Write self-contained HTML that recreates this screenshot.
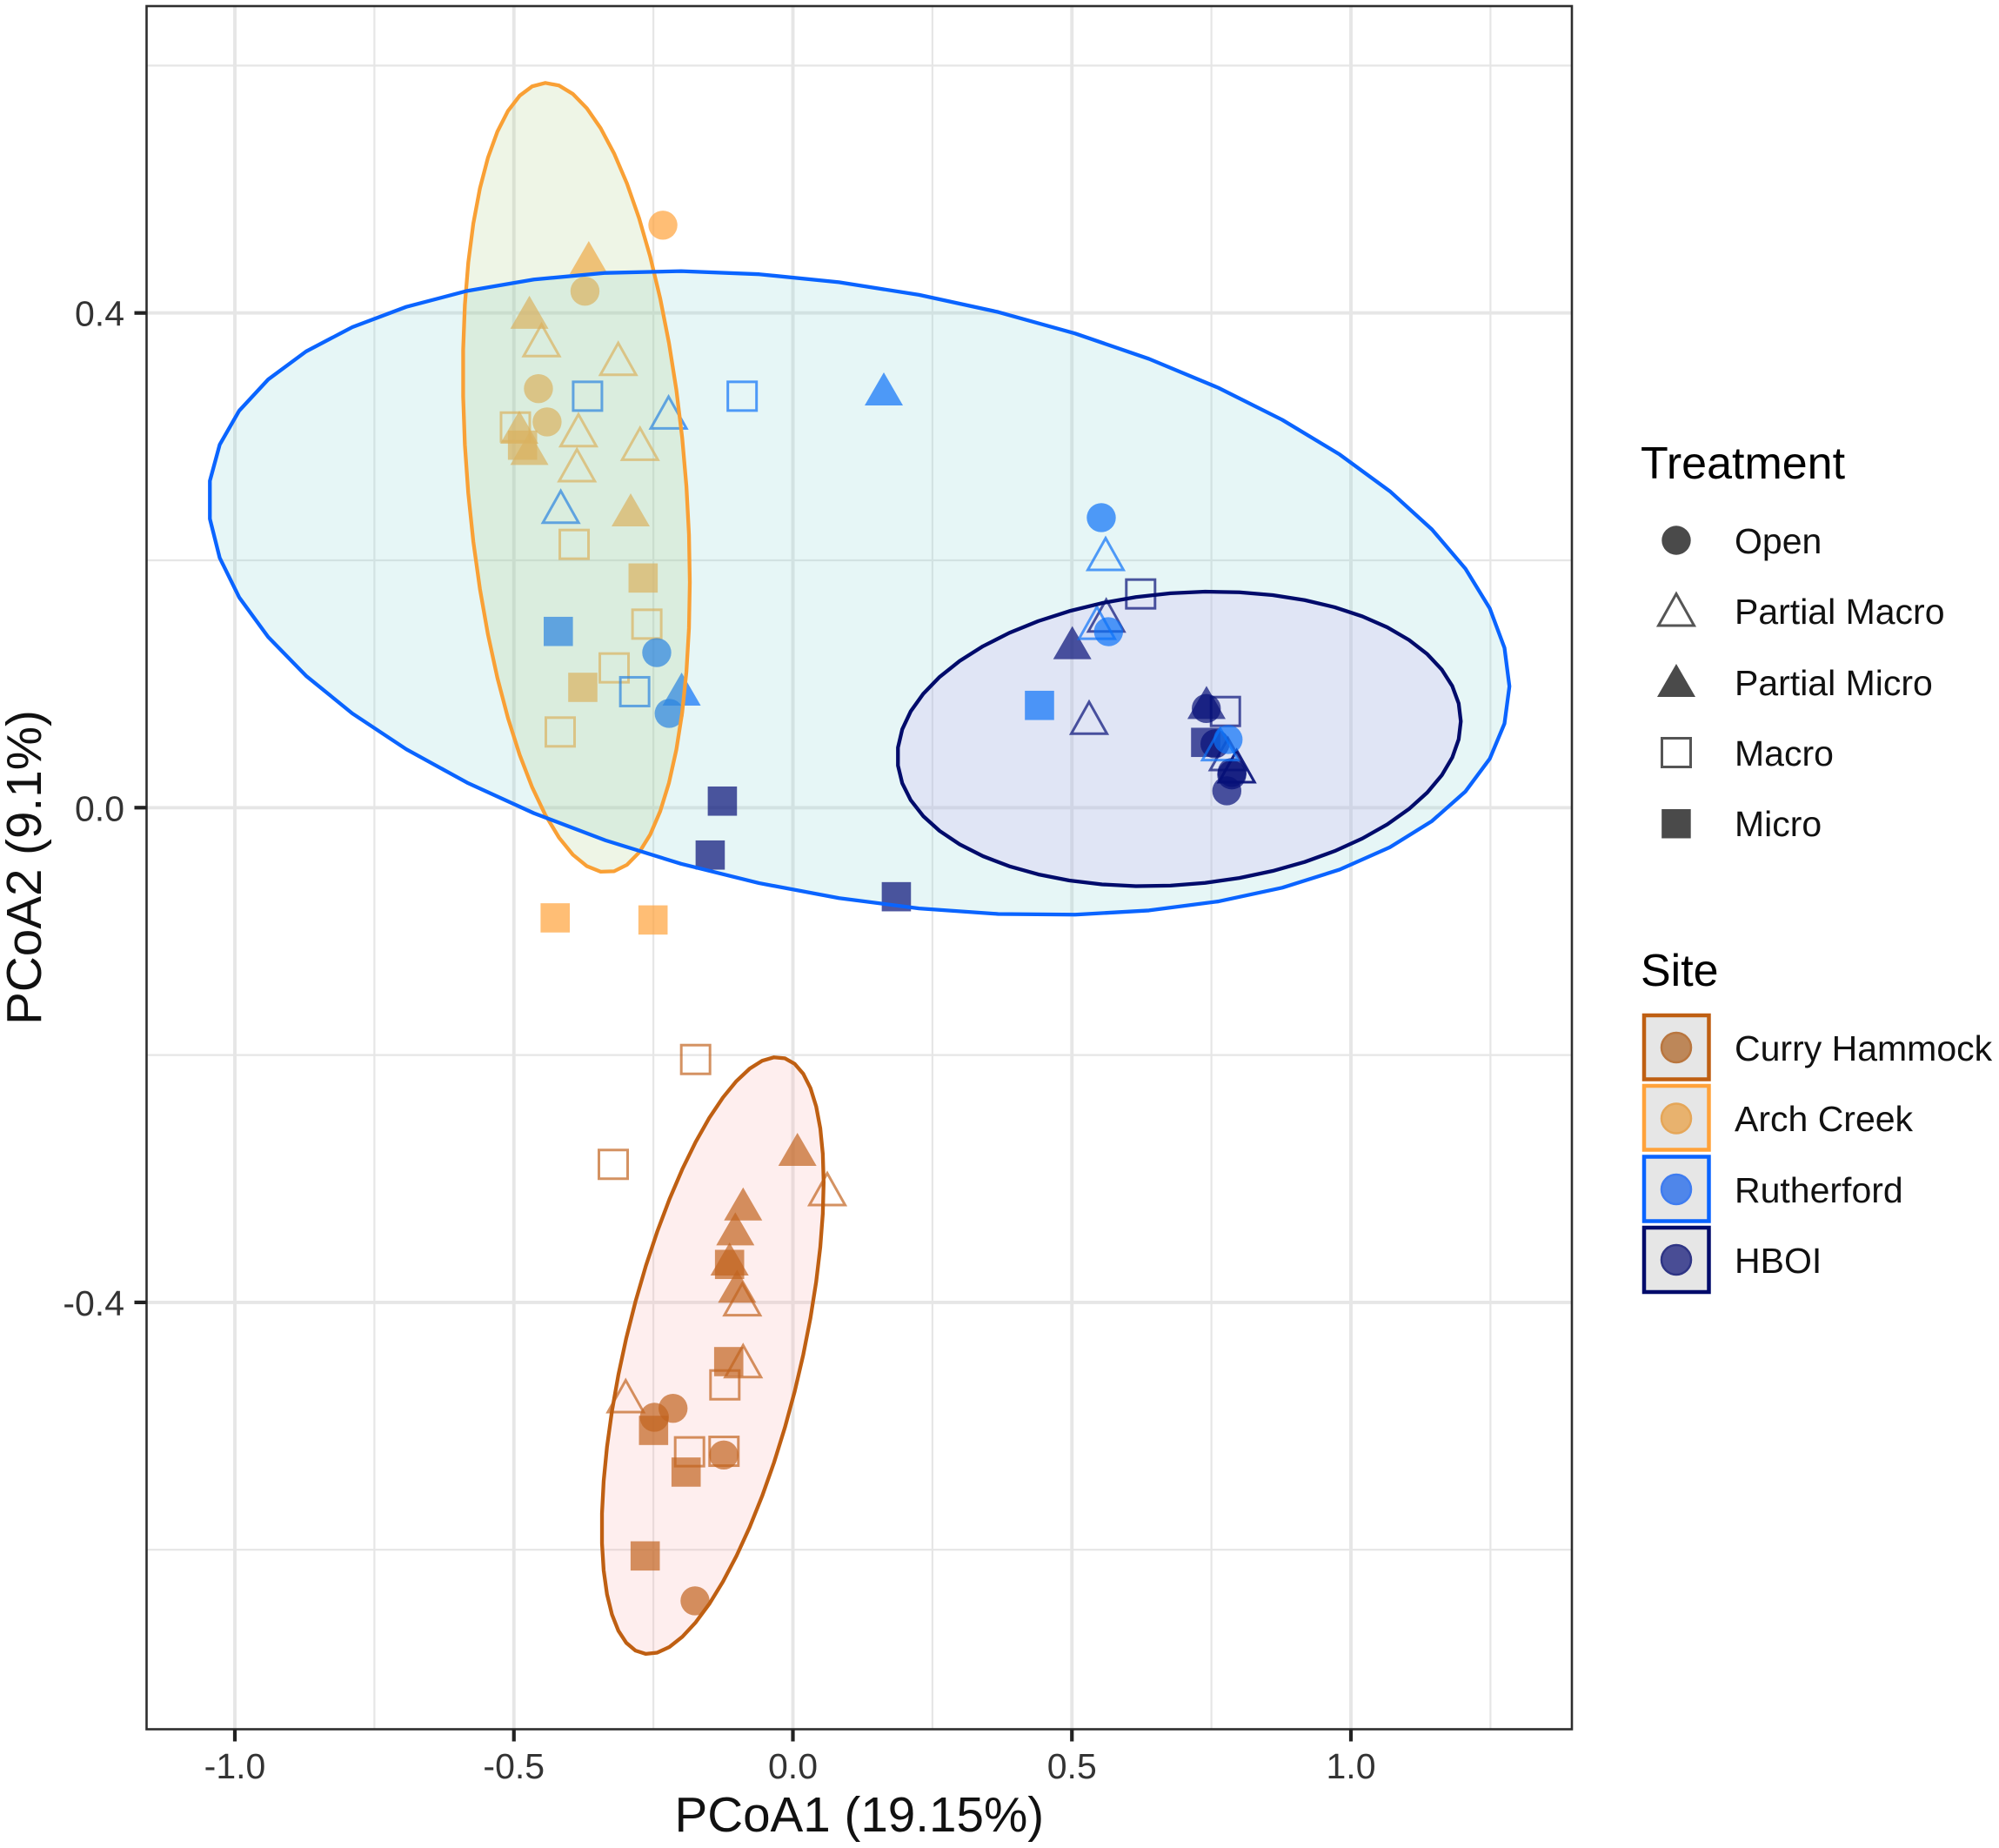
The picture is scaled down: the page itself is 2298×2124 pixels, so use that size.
<!DOCTYPE html>
<html>
<head>
<meta charset="utf-8">
<title>PCoA ordination by site and treatment</title>
<style>
html,body{margin:0;padding:0;background:#fff;}
svg{display:block;}
text{font-family:"Liberation Sans",Arial,sans-serif;}
</style>
</head>
<body>
<svg id="chart" xmlns="http://www.w3.org/2000/svg" width="2298" height="2124" viewBox="0 0 2298 2124">
  <rect x="0" y="0" width="2298" height="2124" fill="#fff"/>
  <g id="grid"></g>
  <g id="layers"></g>
  <rect x="168.5" y="7" width="1638.5" height="1980.5" fill="none" stroke="#2e2e2e" stroke-width="2.6"/>
  <g id="axes"></g>
  <text x="987.8" y="2105" font-size="56.6" text-anchor="middle" fill="#111">PCoA1 (19.15%)</text>
  <text transform="translate(47,997) rotate(-90)" font-size="56.6" text-anchor="middle" fill="#111">PCoA2 (9.1%)</text>

  <g>
    <text x="1886" y="550" font-size="52" fill="#000">Treatment</text>
    <g>
      <circle cx="1927" cy="621" r="16.7" fill="#4a4a4a"/>
      <text x="1994" y="636" font-size="41" fill="#111">Open</text>
    </g>
    <g>
      <path d="M1927 682.5 L1947.5 719 L1906.500 719 Z" fill="none" stroke="#555" stroke-width="3"/>
      <text x="1994" y="717" font-size="41" fill="#111">Partial Macro</text>
    </g>
    <g>
      <path d="M1927 763 L1949 801 L1905 801 Z" fill="#4a4a4a"/>
      <text x="1994" y="799" font-size="41" fill="#111">Partial Micro</text>
    </g>
    <g>
      <rect x="1910.500" y="848.500" width="33" height="33" fill="none" stroke="#555" stroke-width="3"/>
      <text x="1994" y="880" font-size="41" fill="#111">Macro</text>
    </g>
    <g>
      <rect x="1910.200" y="930" width="33.500" height="33.500" fill="#4a4a4a"/>
      <text x="1994" y="961" font-size="41" fill="#111">Micro</text>
    </g>
  </g>

  <g>
    <text x="1886" y="1133" font-size="52" fill="#000">Site</text>
    <g>
      <rect x="1890" y="1167" width="74.500" height="73.500" fill="#e6e6e6" stroke="#bf5f12" stroke-width="4.500"/>
      <circle cx="1927" cy="1204" r="17" fill="#bd8759" stroke="#b9763f" stroke-width="2.500"/>
      <text x="1994" y="1219" font-size="41" fill="#111">Curry Hammock</text>
    </g>
    <g>
      <rect x="1890" y="1248" width="74.500" height="73.500" fill="#e6e6e6" stroke="#ffa23a" stroke-width="4.500"/>
      <circle cx="1927" cy="1285.500" r="17" fill="#e8b26e" stroke="#e5a658" stroke-width="2.500"/>
      <text x="1994" y="1300" font-size="41" fill="#111">Arch Creek</text>
    </g>
    <g>
      <rect x="1890" y="1329.500" width="74.500" height="74" fill="#e6e6e6" stroke="#0a64ff" stroke-width="4.500"/>
      <circle cx="1927" cy="1367" r="17" fill="#4f86ea" stroke="#3f7cf0" stroke-width="2.500"/>
      <text x="1994" y="1382" font-size="41" fill="#111">Rutherford</text>
    </g>
    <g>
      <rect x="1890" y="1411" width="74.500" height="74" fill="#e6e6e6" stroke="#000b6b" stroke-width="4.500"/>
      <circle cx="1927" cy="1448" r="17" fill="#494d95" stroke="#2f3585" stroke-width="2.500"/>
      <text x="1994" y="1463" font-size="41" fill="#111">HBOI</text>
    </g>
  </g>
</svg>

<script>
// ---- Axis ticks ----
const xTickLabels = ['-1.0', '-0.5', '0.0', '0.5', '1.0'];
const yTickLabels = ['-0.4', '0.0', '0.4'];
const xMinorTicks = [-0.75, -0.25, 0.25, 0.75, 1.25];
const yMinorTicks = [-0.6, -0.2, 0.2, 0.6];

// ---- Curry Hammock points [PCoA1, PCoA2] ----
const curryOpen = [[-0.2148,-0.4857],[-0.2482,-0.4929],[-0.1239,-0.5234],[-0.1754,-0.6413]];
const curryPartialMacro = [[0.0616,-0.3079],[-0.0907,-0.397],[-0.0892,-0.447],[-0.2996,-0.4753]];
const curryPartialMicro = [[0.0081,-0.2763],[-0.0892,-0.3204],[-0.1032,-0.3405],[-0.1135,-0.3649],[-0.1,-0.3869]];
const curryMacro = [[-0.1743,-0.2036],[-0.3219,-0.2884],[-0.1219,-0.4667],[-0.1852,-0.5208],[-0.1235,-0.5204]];
const curryMicro = [[-0.1135,-0.3693],[-0.115,-0.4479],[-0.2497,-0.5035],[-0.1914,-0.5372],[-0.2647,-0.605]];

// ---- Arch Creek points ----
const archOpen = [[-0.233,0.471],[-0.3726,0.4176],[-0.456,0.3388],[-0.4405,0.3119]];
const archPartialMacro = [[-0.4505,0.3785],[-0.313,0.3634],[-0.3843,0.3057],[-0.274,0.2947],[-0.387,0.2774]];
const archPartialMicro = [[-0.3658,0.4448],[-0.4722,0.4006],[-0.4903,0.3076],[-0.4722,0.2905],[-0.2907,0.2408]];
const archMacro = [[-0.4973,0.3078],[-0.392,0.2129],[-0.2617,0.1484],[-0.3203,0.113],[-0.417,0.0612]];
const archMicro = [[-0.4845,0.2931],[-0.2684,0.1857],[-0.3765,0.0973],[-0.426,-0.0891],[-0.2507,-0.0908]];

// ---- HBOI points ----
const hboiOpen = [[0.7408,0.0802],[0.7564,0.0516],[0.7864,0.0265],[0.787,0.0285],[0.7776,0.0136]];
const hboiPartialMacro = [[0.5615,0.1559],[0.5308,0.0732],[0.7797,0.0438],[0.7953,0.034],[0.7953,0.034]];
const hboiPartialMicro = [[0.5007,0.1334],[0.7412,0.0851]];
const hboiMacro = [[0.6232,0.1728],[0.7751,0.0778]];
const hboiMicro = [[-0.1264,0.0053],[-0.1482,-0.0383],[0.1854,-0.072],[0.7397,0.0528]];

// ---- Rutherford points ----
const rutherfordOpen = [[0.5526,0.2345],[0.5656,0.1423],[-0.244,0.1254],[-0.2217,0.0762],[0.7798,0.0551]];
const rutherfordPartialMacro = [[-0.2228,0.32],[-0.416,0.2438],[0.5604,0.2056],[0.5448,0.15],[0.7657,0.0518]];
const rutherfordPartialMicro = [[0.1629,0.3386],[-0.1994,0.0959]];
const rutherfordMacro = [[-0.368,0.3327],[-0.0909,0.3327],[-0.2835,0.0938]];
const rutherfordMicro = [[-0.4204,0.1425],[0.4419,0.0827]];

// ---- Ellipses: [centre x, centre y, x radius, y radius, correlation] in data units ----
const rutherfordEllipse = [0.1185, 0.17355, 1.1655, 0.2603, -0.29];
const archEllipse = [-0.388, 0.2669, 0.2033, 0.3191, -0.265];
const curryEllipse = [-0.1437, -0.443, 0.1988, 0.2413, 0.58];
const hboiEllipse = [0.6921, 0.0556, 0.5048, 0.1191, 0.12];

// ---- Axis functions ----
const X0 = 911.5, XK = 641.5, Y0 = 928.3, YK = 1421.5;
const PL = 168.5, PR = 1807, PT = 7, PB = 1987.5;
function sx(v) { return X0 + XK * v; }
function sy(v) { return Y0 - YK * v; }

const NS = 'http://www.w3.org/2000/svg';
function mk(tag, parent, attrs) {
  const el = document.createElementNS(NS, tag);
  for (const k in attrs) el.setAttribute(k, attrs[k]);
  parent.appendChild(el);
  return el;
}

// ---- Grid ----
const gridG = document.getElementById('grid');
const gridColor = '#e6e6e6';
xMinorTicks.forEach(function (v) {
  const el = mk('line', gridG, { x1: sx(v), x2: sx(v), y1: PT, y2: PB, stroke: gridColor, 'stroke-width': 2.2 });
  
  
});
yMinorTicks.forEach(function (v) {
  const el = mk('line', gridG, { x1: PL, x2: PR, y1: sy(v), y2: sy(v), stroke: gridColor, 'stroke-width': 2.2 });
  
  
});
xTickLabels.forEach(function (t) {
  const v = parseFloat(t);
  const el = mk('line', gridG, { x1: sx(v), x2: sx(v), y1: PT, y2: PB, stroke: gridColor, 'stroke-width': 3.9 });
  
  
});
yTickLabels.forEach(function (t) {
  const v = parseFloat(t);
  const el = mk('line', gridG, { x1: PL, x2: PR, y1: sy(v), y2: sy(v), stroke: gridColor, 'stroke-width': 3.9 });
  
  
});

// ---- Axes ----
const axesG = document.getElementById('axes');
xTickLabels.forEach(function (t) {
  const v = parseFloat(t);
  const tick = mk('line', axesG, { x1: sx(v), x2: sx(v), y1: PB, y2: PB + 14, stroke: '#222', 'stroke-width': 4.2 });
  
  
  const lab = mk('text', axesG, { x: sx(v), y: 2044, 'font-size': 41, 'text-anchor': 'middle', fill: '#333' });
  
  
  lab.textContent = t;
});
yTickLabels.forEach(function (t) {
  const v = parseFloat(t);
  const tick = mk('line', axesG, { x1: PL - 14, x2: PL, y1: sy(v), y2: sy(v), stroke: '#222', 'stroke-width': 4.2 });
  
  
  const lab = mk('text', axesG, { x: 143, y: sy(v) + 15, 'font-size': 41, 'text-anchor': 'end', fill: '#333' });
  
  
  lab.textContent = t;
});

// ---- Point marks ----
const layersG = document.getElementById('layers');
const MARK_ALPHA = 0.7;

function drawCircle(pt, color, site) {
  const el = mk('circle', layersG, { cx: sx(pt[0]), cy: sy(pt[1]), r: 16.7, fill: color, 'fill-opacity': MARK_ALPHA });
  
  
}
function drawPartialMacro(pt, color, site) {
  const x = sx(pt[0]), y = sy(pt[1]);
  const el = mk('path', layersG, { d: 'M' + x + ' ' + (y - 17.5) + 'L' + (x + 20.5) + ' ' + (y + 19) + 'L' + (x - 20.5) + ' ' + (y + 19) + 'Z', fill: 'none', stroke: color, 'stroke-opacity': MARK_ALPHA, 'stroke-width': 3 });
  
  
}
function drawPartialMicro(pt, color, site) {
  const x = sx(pt[0]), y = sy(pt[1]);
  const el = mk('path', layersG, { d: 'M' + x + ' ' + (y - 19) + 'L' + (x + 22) + ' ' + (y + 19) + 'L' + (x - 22) + ' ' + (y + 19) + 'Z', fill: color, 'fill-opacity': MARK_ALPHA });
  
  
}
function drawMacro(pt, color, site) {
  const x = sx(pt[0]), y = sy(pt[1]);
  const el = mk('rect', layersG, { x: x - 16.5, y: y - 16.5, width: 33, height: 33, fill: 'none', stroke: color, 'stroke-opacity': MARK_ALPHA, 'stroke-width': 3 });
  
  
}
function drawMicro(pt, color, site) {
  const x = sx(pt[0]), y = sy(pt[1]);
  const el = mk('rect', layersG, { x: x - 16.8, y: y - 16.8, width: 33.6, height: 33.6, fill: color, 'fill-opacity': MARK_ALPHA });
  
  
}
function drawSite(site, color, open, pMacro, pMicro, macro, micro) {
  micro.forEach(function (p) { drawMicro(p, color, site); });
  macro.forEach(function (p) { drawMacro(p, color, site); });
  pMicro.forEach(function (p) { drawPartialMicro(p, color, site); });
  pMacro.forEach(function (p) { drawPartialMacro(p, color, site); });
  open.forEach(function (p) { drawCircle(p, color, site); });
}

// ---- Ellipses ----
const SEGMENTS = 51;
function ellipsePoints(params) {
  const cx = params[0], cy = params[1], rx = params[2], ry = params[3], r = params[4];
  const s = Math.sqrt(1 - r * r);
  const pts = [];
  for (let i = 0; i < SEGMENTS; i++) {
    const t = 2 * Math.PI * i / SEGMENTS;
    const dx = rx * Math.cos(t);
    const dy = ry * (r * Math.cos(t) + s * Math.sin(t));
    pts.push(sx(cx + dx).toFixed(2) + ',' + sy(cy + dy).toFixed(2));
  }
  return pts.join(' ');
}
function drawEllipseFill(params, fill, name) {
  const el = mk('polygon', layersG, { points: ellipsePoints(params), fill: fill, 'fill-opacity': 0.2, stroke: 'none' });
  
  
}
function drawEllipseLine(params, stroke, name) {
  const el = mk('polygon', layersG, { points: ellipsePoints(params), fill: 'none', stroke: stroke, 'stroke-width': 4.3, 'stroke-linejoin': 'round' });
  
  
}

// ---- Layer order follows the tinting seen in the reference ----
drawEllipseFill(curryEllipse, '#faaaaa', 'curry-hammock-ellipse-fill');
drawSite('curry-hammock', '#c2641f', curryOpen, curryPartialMacro, curryPartialMicro, curryMacro, curryMicro);
drawSite('arch-creek', '#ffa23a', archOpen, archPartialMacro, archPartialMicro, archMacro, archMicro);
drawEllipseFill(rutherfordEllipse, '#82d2d2', 'rutherford-ellipse-fill');
drawEllipseFill(hboiEllipse, '#c8a6f6', 'hboi-ellipse-fill');
drawSite('hboi', '#060f78', hboiOpen, hboiPartialMacro, hboiPartialMicro, hboiMacro, hboiMicro);
drawSite('rutherford', '#0c72f8', rutherfordOpen, rutherfordPartialMacro, rutherfordPartialMicro, rutherfordMacro, rutherfordMicro);
drawEllipseFill(archEllipse, '#aacd82', 'arch-creek-ellipse-fill');
drawEllipseLine(curryEllipse, '#bf5f12', 'curry-hammock-ellipse-outline');
drawEllipseLine(archEllipse, '#f9a035', 'arch-creek-ellipse-outline');
drawEllipseLine(rutherfordEllipse, '#0a64ff', 'rutherford-ellipse-outline');
drawEllipseLine(hboiEllipse, '#000b6b', 'hboi-ellipse-outline');
</script>
</body>
</html>
